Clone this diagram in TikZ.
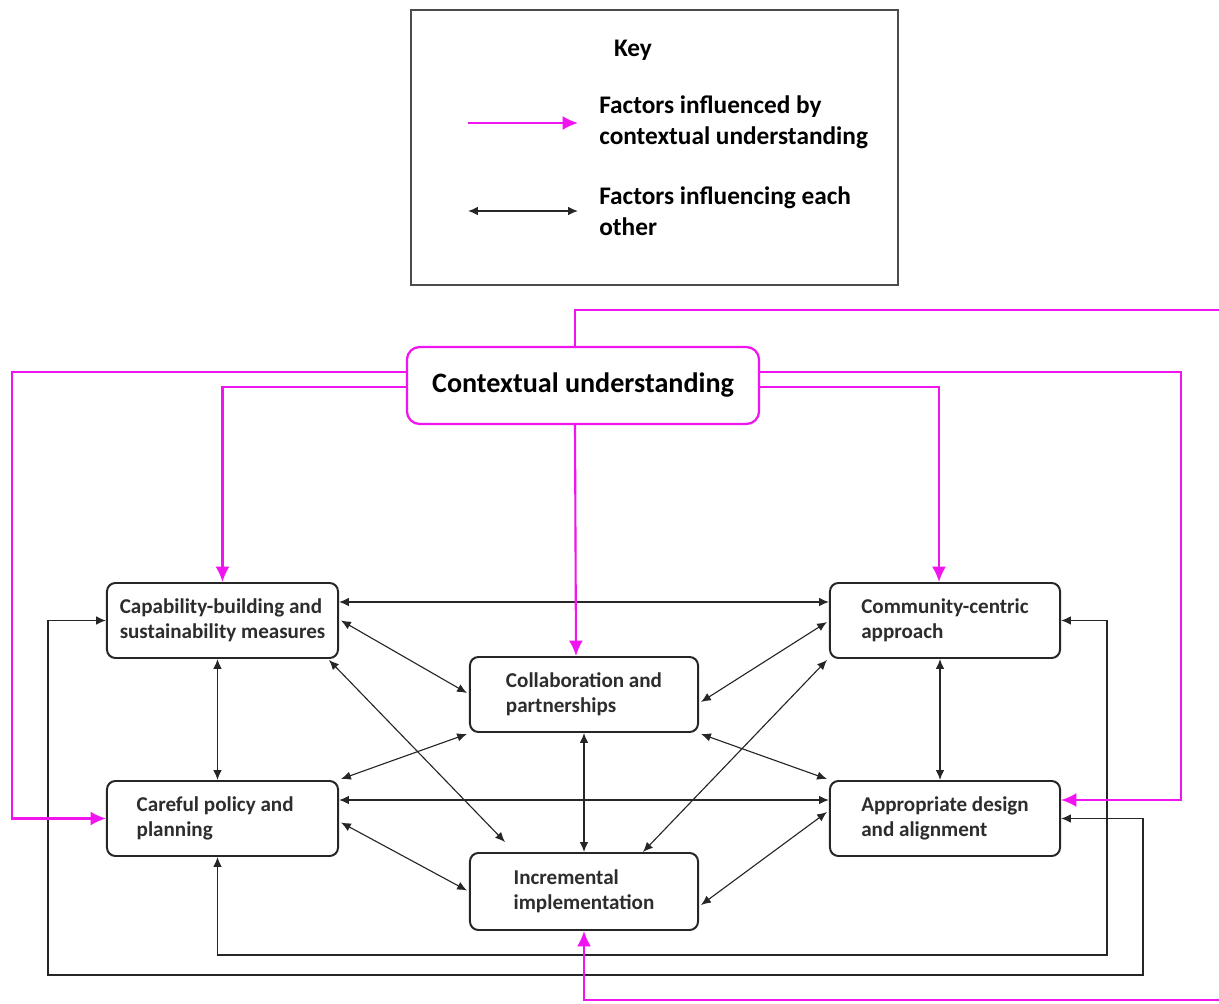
\documentclass[tikz,border=0pt]{standalone}
\usepackage{fontspec}
\setmainfont{Carlito}
\usetikzlibrary{arrows.meta,calc}
\definecolor{mag}{RGB}{240,20,240}
\definecolor{txt}{RGB}{45,45,45}
\begin{document}
\begin{tikzpicture}[x=0.025cm,y=-0.025cm,
  box/.style={draw=black!85, line width=1.4pt, rounded corners=6pt, fill=white,
    align=left, font=\bfseries\fontsize{15}{18}\selectfont, text=txt, inner sep=0pt,
    minimum height=1.875cm},
  bi/.style={black!85, line width=0.8pt, {Latex[length=7pt,width=6pt]}-{Latex[length=7pt,width=6pt]}},
  magl/.style={mag, line width=1.5pt, -{Latex[length=11pt,width=10pt]}},
  keytext/.style={font=\bfseries\fontsize{18}{22}\selectfont, align=left, inner sep=0pt}]
\useasboundingbox (0,0) rectangle (1219,1004);
\clip (0,0) rectangle (1219,1004);

% key
\node[draw=black!70, line width=1.2pt, minimum width=12.175cm, minimum height=6.875cm] (keybox) at (654.5,147.5) {};
\node[keytext] (keyt) at (633,50) {Key};
\node[keytext, anchor=west] (k1t) at (599,122) {Factors influenced by\\contextual understanding};
\node[keytext, anchor=west] (k2t) at (599,211) {Factors influencing each\\other};
\coordinate (k1a) at (468,123);
\coordinate (k1b) at (578,123);
\coordinate (k2a) at (468,211);
\coordinate (k2b) at (578,211);
\draw[magl] (k1a) -- (k1b);
\draw[bi] (k2a) -- (k2b);

% nodes
\node[draw=mag, line width=1.6pt, rounded corners=9pt, fill=white, minimum width=8.8cm, minimum height=1.925cm,
  font=\bfseries\fontsize{20}{24}\selectfont] (cu) at (583,385.5) {Contextual understanding};
\node[box, minimum width=5.775cm] (cap) at (222.5,620.5) {Capability-building and\\sustainability measures};
\node[box, minimum width=5.775cm] (cp) at (222.5,818.5) {Careful policy and\\planning\phantom{ and cccccc}};
\node[box, minimum width=5.7cm] (col) at (584,694.5) {Collaboration and\\partnerships};
\node[box, minimum width=5.7cm, minimum height=1.925cm] (ii) at (584,891.5) {Incremental\\implementation};
\node[box, minimum width=5.75cm] (cc) at (945,620.5) {Community-centric\\approach};
\node[box, minimum width=5.75cm] (ad) at (945,818.5) {Appropriate design\\and alignment};

% black connectors
\draw[bi] ($(cap.east)+(0,-18.5)$) -- ($(cc.west)+(0,-18.5)$);
\draw[bi] ($(cap.east)+(2,0)$) -- ($(col.west)+(-2,-1.5)$);
\draw[bi] ($(cap.south east)+(-10,1)$) -- ($(ii.north west)+(36,-10)$);
\draw[bi] ($(cap.south)+(-5,0)$) -- ($(cp.north)+(-5,0)$);
\draw[bi] ($(cp.north east)+(2,-1)$) -- ($(col.south west)+(-2,1)$);
\draw[bi] ($(cp.east)+(0,-18.5)$) -- ($(ad.west)+(0,-18.5)$);
\draw[bi] ($(cp.east)+(2,4)$) -- ($(ii.west)+(-2,-1)$);
\draw[bi] (col.south) -- (ii.north);
\draw[bi] ($(col.east)+(2,7.5)$) -- ($(cc.west)+(-2,1.5)$);
\draw[bi] ($(col.south east)+(2,1)$) -- ($(ad.north west)+(-2,-1)$);
\draw[bi] ($(ii.north)+(59,0)$) -- ($(cc.south west)+(-2,1)$);
\draw[bi] ($(ii.east)+(2,13.5)$) -- ($(ad.west)+(-2,-6.5)$);
\draw[bi] ($(cc.south)+(-5,0)$) -- ($(ad.north)+(-5,0)$);

% outer black loops
\coordinate (l1) at (1107,955);
\coordinate (l2a) at (48,975);
\coordinate (l2b) at (1143,975);
\draw[bi] (cc.east) -| (l1) -| ($(cp.south)+(-5,0)$);
\draw[bi] (cap.west) -| (l2a) -- (l2b) |- (ad.east);

% magenta connectors
\coordinate (m1) at (1260,310);
\coordinate (m2) at (1260,1000);
\coordinate (m3) at (12,372);
\coordinate (m4) at (1181,800);
\draw[magl] ($(cu.north)+(-8,0)$) |- (m1) -- (m2) -| (ii.south);
\draw[magl] ($(cu.west)+(0,-13.5)$) -- (m3) |- (cp.west);
\draw[magl] ($(cu.west)+(0,1.5)$) -| (cap.north);
\draw[magl] ($(cu.east)+(0,-13.5)$) -| (m4) -- ($(ad.east)+(0,-18.5)$);
\draw[magl] ($(cu.east)+(0,1.5)$) -| ($(cc.north)+(-6,0)$);
\draw[magl] ($(cu.south)+(-8,0)$) -- ($(col.north)+(-8,0)$);
\end{tikzpicture}
\end{document}
